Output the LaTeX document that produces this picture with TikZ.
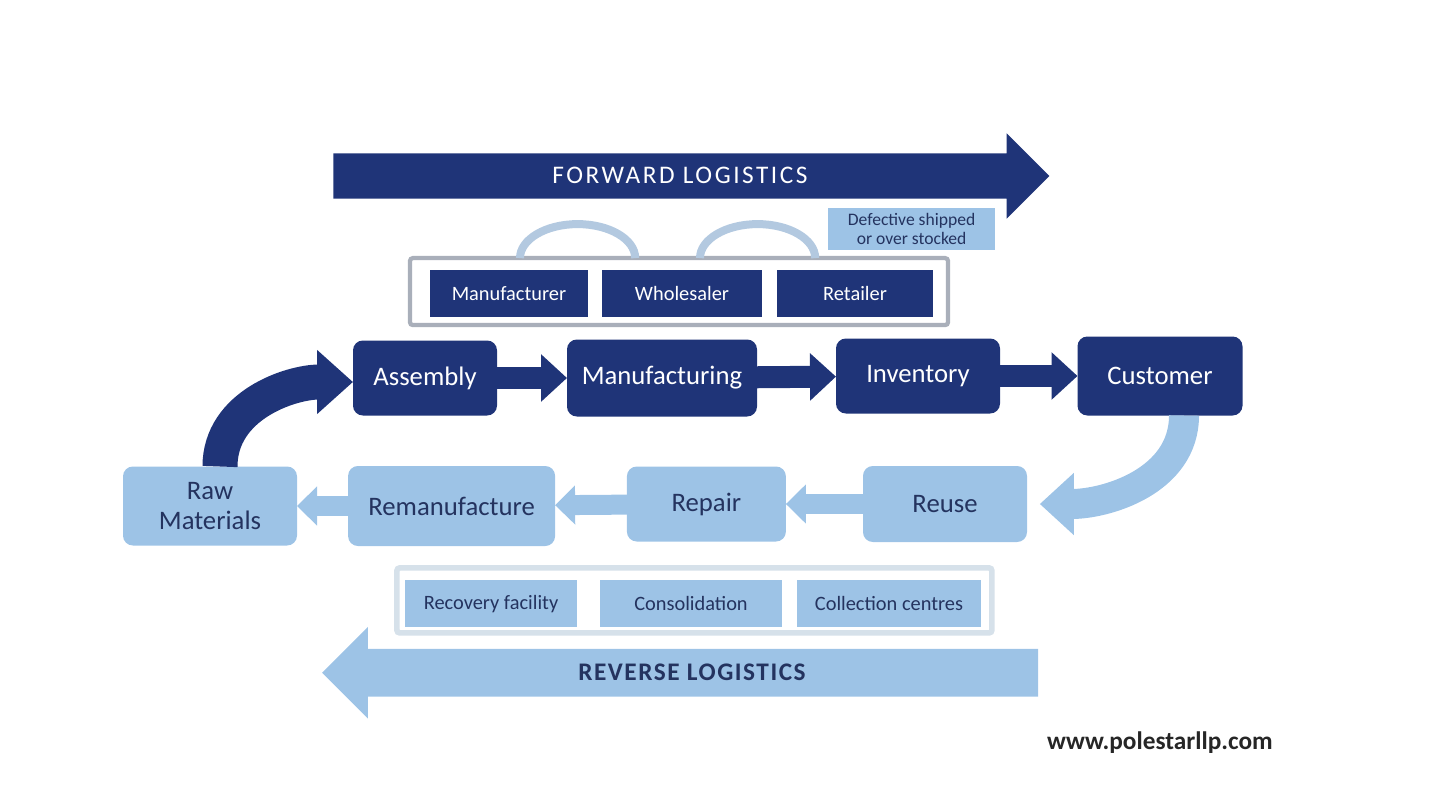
\documentclass[tikz,border=0pt]{standalone}
\usepackage{fontspec}
\setmainfont{Carlito}
\usetikzlibrary{arrows.meta,shapes.arrows}

\definecolor{navy}{HTML}{1F3478}
\definecolor{skyblu}{HTML}{9DC3E6}
\definecolor{inktext}{HTML}{24335F}
\definecolor{framegray}{HTML}{A9AFBA}
\definecolor{framepale}{HTML}{D6E1EA}
\definecolor{arcblue}{HTML}{B3C9E0}

\begin{document}
\begin{tikzpicture}
\tikzset{ >=Triangle, inner sep=0pt, outer sep=0pt,
  darkbox/.style={fill=navy, text=white, rounded corners=7pt, font=\fontsize{19}{22}\selectfont},
  lightbox/.style={fill=skyblu, text=inktext, rounded corners=7pt, align=center, font=\fontsize{19}{22}\selectfont},
  chainbox/.style={fill=navy, text=white, minimum height=1.175cm, font=\fontsize{14.5}{17}\selectfont},
  hubbox/.style={fill=skyblu, text=inktext, minimum height=1.175cm, font=\fontsize{14.5}{17}\selectfont},
  fwdlink/.style={navy, line width=0.55cm, -{Triangle[length=0.65cm,width=1.15cm]}},
  revlink/.style={skyblu, line width=0.5cm, -{Triangle[length=0.5cm,width=0.95cm]}},
  linkarc/.style={arcblue, line width=0.2cm},
  bigarrow/.style={single arrow, single arrow head extend=0.5cm, minimum height=17.9cm, text height=0.45cm, text depth=0.05cm},
}

\useasboundingbox (0,0) rectangle (36,20.25);
%\draw [lightgray, dashed](0,0) grid (36,20);

% logistics arrows
\node [bigarrow, fill=navy, text=white, inner ysep=0.31cm, font=\fontsize{18}{20}\selectfont\addfontfeatures{LetterSpace=10}] (fwd) at (17.0,15.85) {FORWARD LOGISTICS};
\node [bigarrow, fill=skyblu, text=inktext, inner ysep=0.34cm, single arrow head extend=0.55cm, shape border rotate=180, font=\bfseries\fontsize{18}{20}\selectfont\addfontfeatures{LetterSpace=6}] (rev) at (17.3,3.43) {REVERSE LOGISTICS};

% supply chain frame
\node [draw=framegray, line width=3pt, fill=white, rounded corners=2pt, minimum width=13.45cm, minimum height=1.675cm] (topframe) at (16.975,12.96) {};
\node [chainbox, minimum width=3.95cm] (mfr) at (12.725,12.91) {Manufacturer};
\node [chainbox, minimum width=4.0cm]  (whs) at (17.05,12.91) {Wholesaler};
\node [chainbox, minimum width=3.9cm]  (rtl) at (21.375,12.91) {Retailer};

\draw [linkarc] ([xshift=2.75cm]topframe.north west) arc[start angle=180, end angle=0, x radius=1.44cm, y radius=0.85cm];
\draw [linkarc] ([xshift=7.25cm]topframe.north west) arc[start angle=180, end angle=0, x radius=1.44cm, y radius=0.85cm];

\node [fill=skyblu, text=inktext, align=center, minimum width=4.175cm, minimum height=1.05cm, font=\fontsize{12.5}{14}\selectfont] (note) at (22.79,14.525) {Defective shipped\\or over stocked};

% forward row
\node [darkbox, minimum width=3.6cm,  minimum height=1.875cm] (asm) at (10.625,10.8) {Assembly};
\node [darkbox, minimum width=4.75cm, minimum height=1.925cm] (mfg) at (16.55,10.8)  {Manufacturing};
\node [darkbox, minimum width=4.1cm,  minimum height=1.875cm] (inv) at (22.95,10.85)  {Inventory};
\node [darkbox, minimum width=4.125cm,minimum height=1.975cm] (cus) at (29.0,10.85)   {Customer};

% reverse row
\node [lightbox, minimum width=4.35cm,  minimum height=1.975cm] (raw)   at (5.25,7.6)   {Raw\\Materials};
\node [lightbox, minimum width=5.175cm, minimum height=2.0cm]   (reman) at (11.29,7.6)  {Remanufacture};
\node [lightbox, minimum width=3.975cm, minimum height=1.875cm] (rep)   at (17.66,7.65) {Repair};
\node [lightbox, minimum width=4.1cm,   minimum height=1.9cm]   (reu)   at (23.625,7.65) {Reuse};

% recovery frame
\node [draw=framepale, line width=4pt, fill=white, rounded corners=2pt, minimum width=14.875cm, minimum height=1.625cm] (botframe) at (17.36,5.24) {};
\node [hubbox, minimum width=4.3cm]  (rec)  at (12.275,5.16) {Recovery facility};
\node [hubbox, minimum width=4.55cm] (cons) at (17.275,5.16) {Consolidation};
\node [hubbox, minimum width=4.6cm]  (coll) at (22.225,5.16) {Collection centres};

\node [font=\bfseries\fontsize{18}{20}\selectfont, text=black!85] (site) at (29.0,1.68) {www.polestarllp.com};

\draw [fwdlink] (asm) -- (mfg);
\draw [fwdlink] (mfg) -- (inv);
\draw [fwdlink] (inv) -- (cus);

\draw [revlink] (reu) -- (rep);
\draw [revlink] (rep) -- (reman);
\draw [revlink] (reman) -- (raw);

\draw [navy, line width=0.875cm, -{Triangle[length=0.9cm,width=1.55cm]}] ([xshift=0.25cm]raw.north) to[out=90,in=180] ([yshift=-0.1cm]asm.west);
\draw [skyblu, line width=0.75cm, -{Triangle[length=0.85cm,width=1.5cm]}] ([xshift=0.6cm]cus.south) to[out=-90,in=0] ([xshift=0.32cm]reu.east);

\end{tikzpicture}
\end{document}
